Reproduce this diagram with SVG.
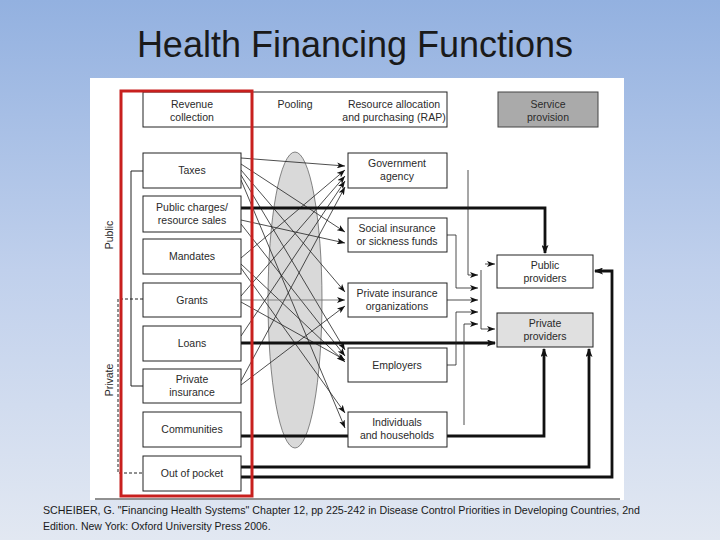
<svg xmlns="http://www.w3.org/2000/svg" width="720" height="540" viewBox="0 0 720 540">
<defs>
<linearGradient id="bg" x1="0" y1="0" x2="0" y2="1">
<stop offset="0" stop-color="#93b1e0"/>
<stop offset="0.5" stop-color="#c0d0ec"/>
<stop offset="1" stop-color="#e2e8f2"/>
</linearGradient>
<marker id="a" markerWidth="8" markerHeight="6" refX="8" refY="3" orient="auto" markerUnits="userSpaceOnUse"><path d="M0,0 L8,3 L0,6 L2,3 z" fill="#111"/></marker>
<marker id="b" markerWidth="9" markerHeight="7" refX="8" refY="3.5" orient="auto" markerUnits="userSpaceOnUse"><path d="M0,0 L9,3.5 L0,7 L2,3.5 z" fill="#111"/></marker>
<style>
.box{fill:#fff;stroke:#222;stroke-width:1}
.t{font-family:"Liberation Sans",Arial,sans-serif;font-size:10.5px;fill:#2a2a2a;text-anchor:middle}
.thin{stroke:#222;stroke-width:0.8;fill:none}
.mid{stroke:#222;stroke-width:1;fill:none}
.thick{stroke:#111;stroke-width:2.8;fill:none}
</style>
</defs>
<rect width="720" height="540" fill="url(#bg)"/>
<text x="355" y="57" font-family="Liberation Sans, Arial, sans-serif" font-size="36" fill="#1a1a1a" text-anchor="middle">Health Financing Functions</text>
<rect x="90" y="78" width="534" height="422" fill="#fff"/>
<line x1="95" y1="499" x2="620" y2="499" stroke="#222" stroke-width="1"/>
<g font-family="Liberation Sans, Arial, sans-serif" font-size="10.5" fill="#1a1a1a">
<text x="43" y="514" textLength="597" lengthAdjust="spacingAndGlyphs">SCHEIBER, G. "Financing Health Systems" Chapter 12, pp 225-242 in Disease Control Priorities in Developing Countries, 2nd</text>
<text x="43" y="530">Edition. New York: Oxford University Press 2006.</text>
</g>

<ellipse id="pool" cx="295" cy="300" rx="27" ry="148" fill="#d9d9d9" stroke="#555" stroke-width="0.7"/>

<g id="header">
<rect class="box" x="143" y="92" width="304" height="35"/>
<text class="t" x="192" y="108">Revenue</text>
<text class="t" x="192" y="121">collection</text>
<text class="t" x="295" y="108">Pooling</text>
<text class="t" x="394" y="108">Resource allocation</text>
<text class="t" x="394" y="121">and purchasing (RAP)</text>
</g>
<g id="service">
<rect x="498" y="92" width="100" height="35" fill="#aaaaaa" stroke="#444" stroke-width="1"/>
<text class="t" x="548" y="108">Service</text>
<text class="t" x="548" y="121">provision</text>
</g>

<g id="brackets">
<path class="mid" d="M143,171 H131 V386 H143"/>
<path class="mid" d="M143,299 H118 V473 H143" stroke-dasharray="3,2"/>
<text class="t" transform="translate(113,235) rotate(-90)">Public</text>
<text class="t" transform="translate(113,380) rotate(-90)">Private</text>
</g>

<g id="connectors">
<path class="thin" d="M241,158 L345,166" marker-end="url(#a)"/>
<path class="thin" d="M241,164 L345,232" marker-end="url(#a)"/>
<path class="thin" d="M241,170 L345,292" marker-end="url(#a)"/>
<path class="thin" d="M241,175 L345,350" marker-end="url(#a)"/>
<path class="thin" d="M241,180 L345,428" marker-end="url(#a)"/>
<path class="thin" d="M241,220 L345,243" marker-end="url(#a)"/>
<path class="thin" d="M241,224 L345,356" marker-end="url(#a)"/>
<path class="thin" d="M241,258 L345,170" marker-end="url(#a)"/>
<path class="thin" d="M241,264 L345,362" marker-end="url(#a)"/>
<path class="thin" d="M241,268 L345,413" marker-end="url(#a)"/>
<path class="thin" d="M241,296 L345,176" marker-end="url(#a)"/>
<path d="M241,300 L345,300" stroke="#777" stroke-width="0.9" fill="none" marker-end="url(#a)"/>
<path class="thin" d="M241,302 L345,360" marker-end="url(#a)"/>
<path class="thin" d="M241,336 L345,181" marker-end="url(#a)"/>
<path class="thin" d="M241,381 L345,187" marker-end="url(#a)"/>
<path class="thin" d="M241,385 L345,306" marker-end="url(#a)"/>
<path class="thick" d="M241,208 H545 V253" marker-end="url(#b)"/>
<path class="thick" d="M241,343 H495" marker-end="url(#b)"/>
<path class="thick" d="M241,436 H348"/>
<path class="thick" d="M447,436 H544 V349" marker-end="url(#b)"/>
<path class="thick" d="M241,467 H589 V349" marker-end="url(#b)"/>
<path class="thick" d="M241,477 H612 V271 H595" marker-end="url(#b)"/>
<path class="thin" d="M468,170 V275 H478" marker-end="url(#a)"/>
<path class="thin" d="M447,235 H456 V288 H478" marker-end="url(#a)"/>
<path class="thin" d="M447,300 H478" marker-end="url(#a)"/>
<path class="thin" d="M447,365 H456 V312 H478" marker-end="url(#a)"/>
<path class="thin" d="M464,425 V324 H478" marker-end="url(#a)"/>
<path class="thin" d="M481,270 V329 H495" marker-end="url(#a)"/>
<path class="thin" d="M485,264 H495" marker-end="url(#a)"/>
</g>

<g id="taxes"><rect class="box" x="143" y="153" width="98" height="35"/><text class="t" x="192" y="174">Taxes</text></g>
<g id="public-charges"><rect class="box" x="143" y="196" width="98" height="36"/><text class="t" x="192" y="211">Public charges/</text><text class="t" x="192" y="224">resource sales</text></g>
<g id="mandates"><rect class="box" x="143" y="239" width="98" height="35"/><text class="t" x="192" y="260">Mandates</text></g>
<g id="grants"><rect class="box" x="143" y="283" width="98" height="34"/><text class="t" x="192" y="304">Grants</text></g>
<g id="loans"><rect class="box" x="143" y="326" width="98" height="35"/><text class="t" x="192" y="347">Loans</text></g>
<g id="private-insurance"><rect class="box" x="143" y="369" width="98" height="34"/><text class="t" x="192" y="383">Private</text><text class="t" x="192" y="396">insurance</text></g>
<g id="communities"><rect class="box" x="143" y="412" width="98" height="35"/><text class="t" x="192" y="433">Communities</text></g>
<g id="out-of-pocket"><rect class="box" x="143" y="456" width="98" height="35"/><text class="t" x="192" y="477">Out of pocket</text></g>

<g id="gov"><rect class="box" x="348" y="153" width="99" height="35"/><text class="t" x="397" y="167">Government</text><text class="t" x="397" y="180">agency</text></g>
<g id="social"><rect class="box" x="348" y="218" width="99" height="34"/><text class="t" x="397" y="232">Social insurance</text><text class="t" x="397" y="245">or sickness funds</text></g>
<g id="private-orgs"><rect class="box" x="348" y="283" width="99" height="34"/><text class="t" x="397" y="297">Private insurance</text><text class="t" x="397" y="310">organizations</text></g>
<g id="employers"><rect class="box" x="348" y="348" width="99" height="34"/><text class="t" x="397" y="369">Employers</text></g>
<g id="individuals"><rect class="box" x="348" y="412" width="99" height="35"/><text class="t" x="397" y="426">Individuals</text><text class="t" x="397" y="439">and households</text></g>

<g id="public-providers"><rect class="box" x="497" y="255" width="96" height="33"/><text class="t" x="545" y="269">Public</text><text class="t" x="545" y="282">providers</text></g>
<g id="private-providers"><rect x="497" y="313" width="96" height="34" fill="#e0e0e0" stroke="#222" stroke-width="1"/><text class="t" x="545" y="327">Private</text><text class="t" x="545" y="340">providers</text></g>

<rect id="highlight" x="121" y="91" width="131" height="405" fill="none" stroke="#c8201e" stroke-width="3"/>
</svg>
